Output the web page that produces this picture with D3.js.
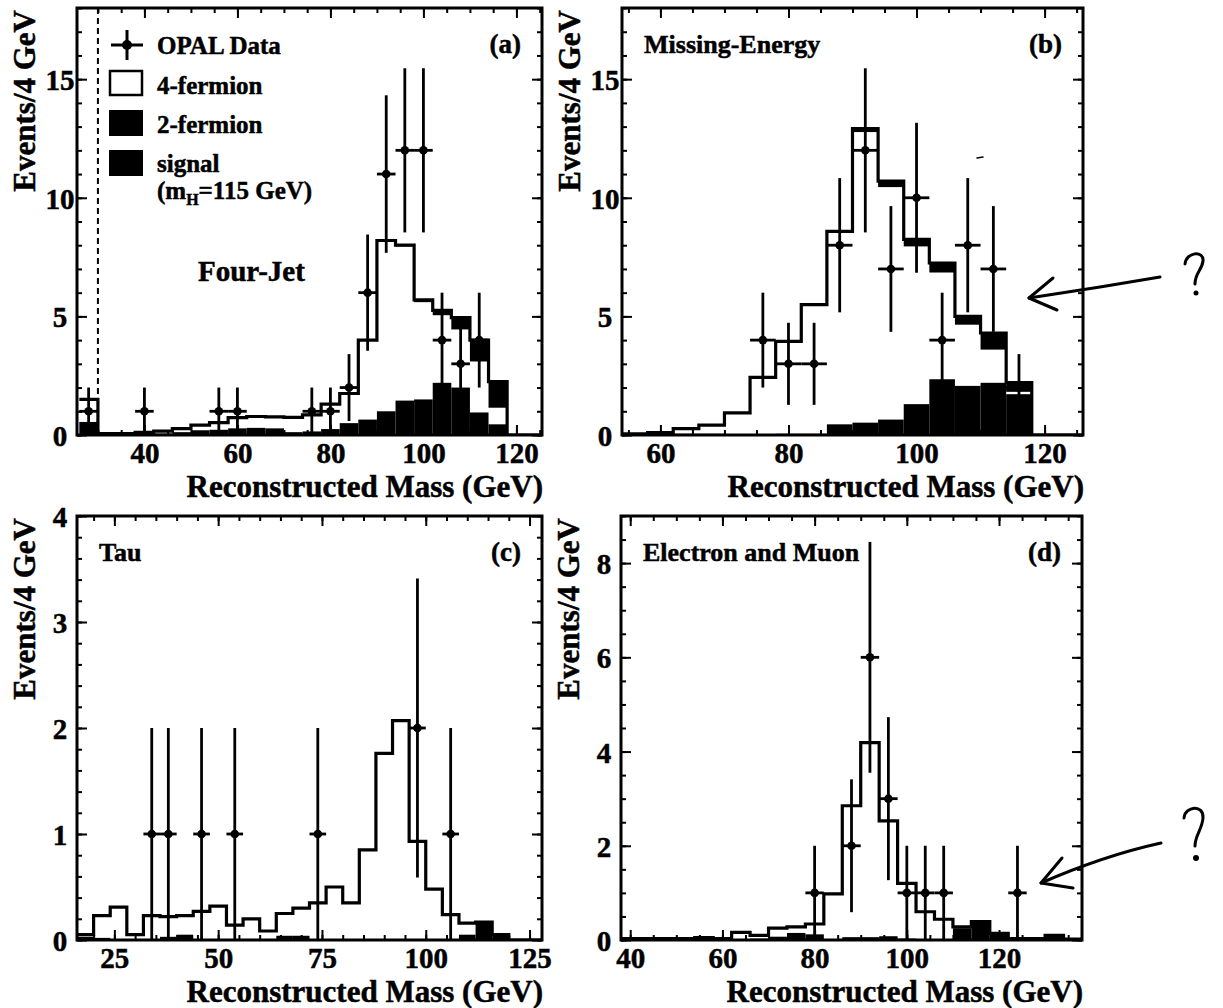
<!DOCTYPE html>
<html>
<head>
<meta charset="utf-8">
<script src="https://cdn.jsdelivr.net/npm/d3@7"></script>
<style>
  body { margin: 0; background: #fff; }
  svg text { font-family: "Liberation Serif", "Times New Roman", serif; font-weight: bold; fill: #000; stroke: #000; stroke-width: 0.5px; }
</style>
</head>
<body>
<svg id="chart" width="1223" height="1008"></svg>
<script>
// ---- (a) Four-Jet ----
const aBins = d3.range(26, 126, 4);   // bin low edges, 4 GeV wide
const aTwoF   = [0.55, 0.02, 0.02, 0.04, 0.06, 0.12, 0.2, 0.22, 0.28, 0.3, 0.28, 0.12, 0.15, 0.25, 0.5, 0.65, 1.0, 1.45, 1.5, 2.2, 2.0, 0.95, 0.45, 0, 0];
const aFourF  = [0.95, 0.04, 0.04, 0.07, 0.1, 0.15, 0.22, 0.3, 0.45, 0.48, 0.48, 0.62, 0.7, 1.05, 1.25, 3.35, 7.2, 6.5, 4.1, 2.85, 2.45, 2.15, 0.7, 0, 0];
const aSignal = [0, 0, 0, 0, 0, 0, 0, 0, 0, 0, 0, 0, 0, 0, 0, 0, 0, 0.05, 0.1, 0.2, 0.5, 0.9, 1.1, 0, 0];
const aDataX  = [28, 40, 56, 60, 76, 80, 84, 88, 92, 96, 100, 104, 108, 112];
const aDataN  = [1, 1, 1, 1, 1, 1, 2, 6, 11, 12, 12, 4, 3, 4];
const aDataE  = [1, 1, 1, 1, 1, 1, 1.41, 2.45, 3.32, 3.46, 3.46, 2, 1.73, 2];

// ---- (b) Missing-Energy ----
const bBins = d3.range(54, 126, 4);
const bTwoF   = [0, 0.02, 0.05, 0.05, 0.03, 0.03, 0.05, 0.05, 0.45, 0.52, 0.65, 1.3, 2.35, 2.07, 2.2, 1.72, 0, 0];
const bFourF  = [0.05, 0.08, 0.22, 0.37, 0.9, 2.4, 3.9, 5.45, 8.1, 12.25, 9.8, 6.65, 4.5, 2.58, 1.4, 0.1, 0, 0];
const bSignal = [0, 0, 0, 0, 0, 0, 0, 0, 0.03, 0.15, 0.25, 0.3, 0.4, 0.35, 0.7, 0.39, 0, 0];
const bDataX  = [76, 80, 84, 88, 92, 96, 100, 104, 108, 112, 116];
const bDataN  = [4, 3, 3, 8, 12, 7, 10, 4, 8, 7, 2];
const bDataE  = [2, 1.73, 1.73, 2.83, 3.46, 2.65, 3.16, 2, 2.83, 2.65, 1.41];

// ---- (c) Tau ----
const cBins = d3.range(16, 128, 4);
const cTwoF   = [0.03, 0.02, 0, 0, 0, 0.03, 0.05, 0, 0, 0, 0.01, 0, 0.04, 0.04, 0, 0, 0, 0, 0, 0, 0, 0, 0, 0.05, 0.17, 0.05, 0, 0];
const cFourF  = [0.02, 0.21, 0.31, 0.05, 0.23, 0.19, 0.18, 0.27, 0.32, 0.14, 0.19, 0.085, 0.21, 0.26, 0.35, 0.5, 0.35, 0.85, 1.76, 2.07, 0.93, 0.48, 0.24, 0.11, 0, 0, 0, 0];
const cSignal = [0, 0, 0, 0, 0, 0, 0, 0, 0, 0, 0, 0, 0, 0, 0, 0, 0, 0, 0, 0, 0, 0, 0, 0, 0, 0, 0, 0];
const cDataX  = [34, 38, 46, 54, 74, 98, 106];
const cDataN  = [1, 1, 1, 1, 1, 2, 1];
const cDataE  = [1, 1, 1, 1, 1, 1.41, 1];

// ---- (d) Electron and Muon ----
const dBins = d3.range(38, 138, 4);
const dTwoF   = [0, 0, 0, 0, 0.05, 0, 0.02, 0.03, 0.07, 0.15, 0.12, 0.02, 0.06, 0.06, 0.08, 0.03, 0, 0.02, 0.25, 0.37, 0.12, 0, 0, 0.08, 0];
const dFourF  = [0.03, 0.03, 0.03, 0.03, 0, 0.03, 0.14, 0.07, 0.18, 0.13, 0.22, 0.96, 2.79, 4.13, 2.45, 1.17, 0.6, 0.42, 0.03, 0.02, 0.02, 0.03, 0.03, 0.02, 0.02];
const dSignal = [0, 0, 0, 0, 0, 0, 0, 0, 0, 0, 0, 0, 0, 0, 0, 0, 0, 0, 0, 0, 0, 0, 0, 0, 0];
const dDataX  = [80, 88, 92, 96, 100, 104, 108, 124];
const dDataN  = [1, 2, 6, 3, 1, 1, 1, 1];
const dDataE  = [1, 1.41, 2.45, 1.73, 1, 1, 1, 1];

const panels = [
  { id: "a", left: 77, right: 542, top: 8, bottom: 435, xDomain: [25.5, 125.5], yMax: 18,
    xMajor: [40, 60, 80, 100, 120], yMajor: [0, 5, 10, 15], yMinorStep: 1,
    bins: aBins, twoF: aTwoF, fourF: aFourF, signal: aSignal, dataX: aDataX, dataN: aDataN, dataE: aDataE,
    letter: "(a)" },
  { id: "b", left: 622, right: 1083, top: 8, bottom: 435, xDomain: [54, 126], yMax: 18,
    xMajor: [60, 80, 100, 120], yMajor: [0, 5, 10, 15], yMinorStep: 1,
    bins: bBins, twoF: bTwoF, fourF: bFourF, signal: bSignal, dataX: bDataX, dataN: bDataN, dataE: bDataE,
    letter: "(b)", title: "Missing-Energy" },
  { id: "c", left: 77, right: 542, top: 516, bottom: 940, xDomain: [16, 128], yMax: 4,
    xMajor: [25, 50, 75, 100, 125], yMajor: [0, 1, 2, 3, 4], yMinorStep: 0.2,
    bins: cBins, twoF: cTwoF, fourF: cFourF, signal: cSignal, dataX: cDataX, dataN: cDataN, dataE: cDataE,
    letter: "(c)", title: "Tau" },
  { id: "d", left: 621, right: 1082, top: 516, bottom: 940, xDomain: [38, 138], yMax: 9,
    xMajor: [40, 60, 80, 100, 120], yMajor: [0, 2, 4, 6, 8], yMinorStep: 0.5,
    bins: dBins, twoF: dTwoF, fourF: dFourF, signal: dSignal, dataX: dDataX, dataN: dDataN, dataE: dDataE,
    letter: "(d)", title: "Electron and Muon" }
];

const svg = d3.select("#chart");

function drawPanel(p) {
  const x = d3.scaleLinear().domain(p.xDomain).range([p.left, p.right]);
  const y = d3.scaleLinear().domain([0, p.yMax]).range([p.bottom, p.top]);
  const g = svg.append("g");

  const clipId = "clip-" + p.id;
  svg.append("clipPath").attr("id", clipId).append("rect")
    .attr("x", p.left).attr("y", p.top)
    .attr("width", p.right - p.left).attr("height", p.bottom - p.top);
  const plot = g.append("g").attr("clip-path", `url(#${clipId})`);

  const bins = p.bins.map((lo, i) => ({
    lo, hi: lo + 4, f2: p.twoF[i], bg: p.twoF[i] + p.fourF[i], tot: p.twoF[i] + p.fourF[i] + p.signal[i]
  }));

  // 2-fermion (black, bottom)
  plot.selectAll("rect.f2").data(bins).enter().append("rect").attr("class", "f2")
    .attr("x", d => x(d.lo)).attr("width", d => x(d.hi) - x(d.lo))
    .attr("y", d => y(d.f2)).attr("height", d => y(0) - y(d.f2))
    .attr("fill", "#000");
  // signal (black, on top of the 4-fermion)
  plot.selectAll("rect.sig").data(bins).enter().append("rect").attr("class", "sig")
    .attr("x", d => x(d.lo)).attr("width", d => x(d.hi) - x(d.lo))
    .attr("y", d => y(d.tot)).attr("height", d => y(d.bg) - y(d.tot))
    .attr("fill", "#000");

  // total outline as a step line
  const steps = [];
  bins.forEach(d => { steps.push([d.lo, d.tot], [d.hi, d.tot]); });
  plot.append("path").datum(steps)
    .attr("d", d3.line().x(d => x(d[0])).y(d => y(d[1])))
    .attr("fill", "none").attr("stroke", "#000").attr("stroke-width", 3.2);

  if (p.id === "a") {
    plot.append("line")
      .attr("x1", x(30)).attr("x2", x(30)).attr("y1", p.top).attr("y2", p.bottom)
      .attr("stroke", "#000").attr("stroke-width", 2).attr("stroke-dasharray", "6,4");
  }

  // data points
  const pts = p.dataX.map((m, i) => ({ m, n: p.dataN[i], e: p.dataE[i] }));
  const dg = plot.append("g").attr("stroke", "#000").attr("stroke-width", 2.8);
  dg.selectAll("line.ey").data(pts).enter().append("line").attr("class", "ey")
    .attr("x1", d => x(d.m)).attr("x2", d => x(d.m))
    .attr("y1", d => y(Math.max(0, d.n - d.e))).attr("y2", d => y(d.n + d.e));
  dg.selectAll("line.ex").data(pts).enter().append("line").attr("class", "ex")
    .attr("x1", d => x(d.m - 2)).attr("x2", d => x(d.m + 2))
    .attr("y1", d => y(d.n)).attr("y2", d => y(d.n));
  dg.selectAll("circle").data(pts).enter().append("circle")
    .attr("cx", d => x(d.m)).attr("cy", d => y(d.n)).attr("r", 4.3)
    .attr("fill", "#000").attr("stroke", "none");

  // axes: ticks inward on all four sides
  const xMinor = d3.range(Math.ceil(p.xDomain[0] / 5) * 5, p.xDomain[1], 5);
  const yMinor = d3.range(0, p.yMax + 1e-9, p.yMinorStep);
  const strip = sel => { sel.select(".domain").remove(); sel.selectAll("line").attr("stroke-width", 2); };

  g.append("g").attr("transform", `translate(0,${p.bottom})`)
    .call(d3.axisBottom(x).tickValues(xMinor).tickSize(-5).tickFormat("")).call(strip);
  g.append("g").attr("transform", `translate(0,${p.top})`)
    .call(d3.axisTop(x).tickValues(xMinor).tickSize(-5).tickFormat("")).call(strip);
  g.append("g").attr("transform", `translate(0,${p.top})`)
    .call(d3.axisTop(x).tickValues(p.xMajor).tickSize(-10).tickFormat("")).call(strip);
  g.append("g").attr("transform", `translate(${p.left},0)`)
    .call(d3.axisLeft(y).tickValues(yMinor).tickSize(-5).tickFormat("")).call(strip);
  g.append("g").attr("transform", `translate(${p.right},0)`)
    .call(d3.axisRight(y).tickValues(yMinor).tickSize(-5).tickFormat("")).call(strip);
  g.append("g").attr("transform", `translate(${p.right},0)`)
    .call(d3.axisRight(y).tickValues(p.yMajor).tickSize(-10).tickFormat("")).call(strip);

  const xb = g.append("g").attr("transform", `translate(0,${p.bottom})`)
    .call(d3.axisBottom(x).tickValues(p.xMajor).tickSize(-10).tickFormat(d3.format("d"))).call(strip);
  xb.selectAll("text").attr("y", 28).attr("dy", null).style("font-size", "29px");

  const yl = g.append("g").attr("transform", `translate(${p.left},0)`)
    .call(d3.axisLeft(y).tickValues(p.yMajor).tickSize(-10).tickFormat(d3.format("d"))).call(strip);
  yl.selectAll("text").attr("x", -17).attr("dy", "0.36em").attr("text-anchor", "middle").style("font-size", "29px");

  // frame
  g.append("rect")
    .attr("x", p.left).attr("y", p.top)
    .attr("width", p.right - p.left).attr("height", p.bottom - p.top)
    .attr("fill", "none").attr("stroke", "#000").attr("stroke-width", 3);

  // axis titles
  g.append("text")
    .attr("x", p.right + 1).attr("y", p.bottom + 62)
    .attr("text-anchor", "end").style("font-size", "31px")
    .text("Reconstructed Mass (GeV)");
  g.append("text")
    .attr("transform", `translate(${p.left - 42},${p.top + 2}) rotate(-90)`)
    .attr("text-anchor", "end").style("font-size", "31px")
    .text("Events/4 GeV");

  // panel letter and title
  g.append("text")
    .attr("x", p.right - 21).attr("y", p.top + 45)
    .attr("text-anchor", "end").style("font-size", "27px")
    .text(p.letter);
  if (p.title) {
    g.append("text")
      .attr("x", p.left + 22).attr("y", p.top + 45)
      .style("font-size", "26px")
      .text(p.title);
  }
}

panels.forEach(drawPanel);

// legend and channel name in panel (a)
const lg = svg.append("g");
lg.append("line").attr("x1", 111).attr("x2", 143).attr("y1", 45).attr("y2", 45).attr("stroke", "#000").attr("stroke-width", 3);
lg.append("line").attr("x1", 127).attr("x2", 127).attr("y1", 30).attr("y2", 60).attr("stroke", "#000").attr("stroke-width", 3);
lg.append("circle").attr("cx", 127).attr("cy", 45).attr("r", 5);
lg.append("rect").attr("x", 110).attr("y", 71).attr("width", 32).attr("height", 24)
  .attr("fill", "#fff").attr("stroke", "#000").attr("stroke-width", 2.5);
lg.append("rect").attr("x", 109).attr("y", 110).attr("width", 34).attr("height", 26).attr("fill", "#000");
lg.append("rect").attr("x", 109).attr("y", 150).attr("width", 34).attr("height", 26).attr("fill", "#000");

const legendText = [["OPAL Data", 54], ["4-fermion", 94], ["2-fermion", 133], ["signal", 172]];
lg.selectAll("text.lt").data(legendText).enter().append("text").attr("class", "lt")
  .attr("x", 157).attr("y", d => d[1]).style("font-size", "25px").text(d => d[0]);
const mh = lg.append("text").attr("x", 157).attr("y", 199).style("font-size", "25px");
mh.append("tspan").text("(m");
mh.append("tspan").attr("dy", 6).style("font-size", "16px").text("H");
mh.append("tspan").attr("dy", -6).text("=115 GeV)");

svg.append("text").attr("x", 198).attr("y", 281).style("font-size", "29px").text("Four-Jet");

// hand-drawn annotations
const ann = svg.append("g").attr("fill", "none").attr("stroke", "#000")
  .attr("stroke-width", 3).attr("stroke-linecap", "round").attr("stroke-linejoin", "round");
ann.append("path").attr("d", "M1160,277 L1100,287 L1029,298");
ann.append("path").attr("d", "M1053,278 L1029,298 L1057,310");
ann.append("path").attr("d", "M1185,264 C1186,252 1204,250 1203,261 C1202,270 1195,273 1195,284");
ann.append("path").attr("d", "M1161,843 C1120,852 1080,866 1041,883");
ann.append("path").attr("d", "M1062,858 L1041,883 L1073,888");
ann.append("path").attr("d", "M1184,818 C1185,806 1204,804 1203,818 C1202,830 1195,835 1195,846");
svg.append("circle").attr("cx", 1196).attr("cy", 293).attr("r", 2.5);
svg.append("circle").attr("cx", 1196).attr("cy", 858).attr("r", 3);
ann.append("path").attr("d", "M977,158 L983,157").attr("stroke-width", 1.5);
</script>
</body>
</html>
